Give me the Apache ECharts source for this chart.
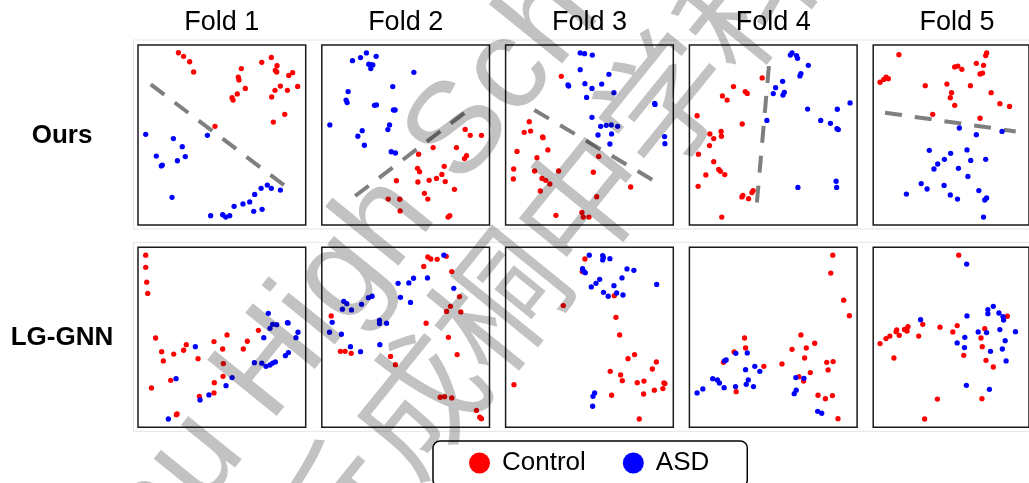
<!DOCTYPE html>
<html>
<head>
<meta charset="utf-8">
<script src="https://cdn.jsdelivr.net/npm/echarts@6/dist/echarts.min.js"></script>
<style>
  html, body { margin: 0; padding: 0; background: #ffffff; }
  #chart { width: 1029px; height: 483px; }
</style>
</head>
<body>
<div id="chart"></div>
<script>
// ---- labels ----
const foldTitles = ['Fold 1', 'Fold 2', 'Fold 3', 'Fold 4', 'Fold 5'];
const methodLabels = ['Ours', 'LG-GNN'];
const classNames = ['Control', 'ASD'];

// ---- 2-D embeddings (normalised to 0..100 per panel) : Ours ----
const ours1Control = [[24.1,95.7],[27.2,93.7],[30.8,90.7],[33.2,85.0],[61.6,86.9],[59.8,82.2],[60.2,80.6],[64.0,75.9],[59.2,72.8],[56.1,70.7],[56.7,69.4],[45.9,54.8],[73.8,90.4],[79.5,93.1],[82.9,88.5],[81.9,85.9],[82.7,85.0],[89.9,83.1],[92.2,84.6],[95.2,77.0],[89.1,74.8],[84.9,77.2],[81.7,74.8],[79.7,71.1],[87.5,61.5],[80.7,57.2]];
const ours1ASD = [[4.6,50.4],[21.1,48.0],[26.4,43.5],[10.9,38.3],[28.2,38.0],[23.5,35.7],[13.9,32.8],[14.5,33.3],[41.4,49.8],[20.3,15.4],[43.3,5.2],[50.5,5.7],[52.3,4.4],[54.7,5.2],[57.3,10.4],[62.6,11.7],[66.6,12.8],[69.0,7.6],[74.0,8.7],[69.6,17.0],[73.4,20.4],[77.1,22.2],[79.5,20.4],[84.9,19.4]];
const ours2Control = [[85.5,53.1],[88.5,49.8],[95.2,49.8],[57.7,39.3],[66.4,43.0],[80.3,43.0],[86.3,38.5],[85.1,36.9],[73.0,32.6],[57.1,31.5],[58.3,29.6],[71.6,28.1],[68.4,25.9],[64.0,24.8],[73.6,24.1],[44.5,24.6],[57.3,23.9],[79.1,19.8],[61.2,17.6],[63.2,14.4],[39.6,14.4],[46.5,14.3],[46.7,7.8],[76.3,5.2],[75.3,4.4]];
const ours2ASD = [[18.3,91.3],[23.1,93.0],[26.6,95.6],[32.4,93.7],[28.0,89.3],[29.4,88.9],[30.4,88.9],[29.2,86.9],[54.9,84.8],[42.3,76.9],[15.7,74.1],[14.5,69.4],[15.1,68.0],[31.4,66.5],[32.6,66.7],[42.7,63.9],[43.7,63.9],[4.8,55.6],[40.4,55.6],[39.4,53.0],[24.1,52.4],[21.5,49.3],[25.4,44.3],[41.4,40.7],[43.9,40.0]];
const ours3Control = [[33.2,82.6],[14.1,57.4],[11.1,51.5],[14.9,52.2],[22.1,48.9],[22.3,48.5],[6.8,40.9],[25.2,41.7],[18.7,37.4],[55.5,38.1],[4.8,31.1],[17.3,30.0],[31.6,30.0],[52.3,29.3],[4.6,25.6],[21.7,25.9],[23.9,24.8],[26.4,22.8],[20.7,18.9],[74.6,21.1],[54.3,15.7],[30.0,5.4],[45.5,7.0],[46.3,4.4],[49.7,4.4]];
const ours3ASD = [[44.5,95.6],[47.1,95.2],[51.7,94.4],[44.5,86.3],[61.6,83.7],[37.2,77.8],[37.6,77.2],[47.3,78.5],[51.5,75.9],[57.3,78.3],[48.3,70.9],[64.6,73.5],[88.9,67.6],[89.1,67.0],[51.5,59.8],[56.7,54.8],[60.0,55.4],[63.0,55.6],[66.8,54.8],[55.1,50.0],[63.2,50.6],[62.2,45.0],[94.8,49.1],[95.0,45.2]];
const ours4Control = [[43.4,81.7],[26.3,76.9],[33.3,74.1],[34.5,73.1],[19.7,71.7],[22.5,69.4],[4.6,60.7],[31.5,56.1],[12.2,50.6],[18.9,52.0],[14.5,48.0],[19.1,49.3],[12.0,44.1],[5.4,39.3],[14.5,35.2],[17.5,30.9],[18.5,29.8],[21.1,28.0],[9.8,27.8],[5.2,21.5],[38.0,19.1],[37.3,18.0],[31.9,16.5],[31.3,15.6],[35.3,14.6],[19.3,4.4]];
const ours4ASD = [[61.2,95.6],[60.2,94.4],[63.9,94.1],[64.5,92.6],[70.9,88.7],[66.5,84.1],[65.9,82.8],[55.6,79.8],[51.4,76.3],[56.6,73.7],[50.0,73.0],[55.8,72.2],[95.8,67.8],[70.5,64.4],[88.2,64.3],[46.2,58.1],[78.3,58.1],[84.1,56.5],[88.0,53.5],[88.8,53.0],[87.5,24.3],[87.8,20.9],[64.7,20.9]];
const ours5Control = [[16.5,94.6],[4.4,79.3],[6.8,80.9],[8.3,82.2],[9.7,81.3],[33.4,77.4],[47.3,78.3],[52.3,87.8],[54.3,88.3],[56.9,86.5],[66.2,89.8],[70.8,88.7],[72.8,95.6],[72.2,94.1],[68.6,83.9],[70.2,84.4],[62.4,77.4],[50.3,73.5],[49.5,70.7],[52.3,66.5],[75.7,73.5],[81.3,67.4],[87.5,65.9],[38.2,61.5],[68.6,59.3]];
const ours5ASD = [[55.3,53.9],[66.2,50.2],[82.7,52.0],[36.0,41.5],[49.7,39.8],[60.2,41.7],[45.7,36.5],[62.6,35.9],[72.2,36.5],[41.4,33.9],[39.0,31.1],[54.7,31.5],[60.8,27.0],[30.8,23.0],[34.6,20.0],[21.3,17.2],[45.5,22.0],[49.5,16.7],[54.1,14.4],[67.8,19.1],[72.8,15.0],[71.6,13.9],[70.8,4.4]];

// decision boundaries of Ours: [x1, y1, x2, y2] per fold
const oursBoundaries = [[7.6,78.1,90.1,20.0],[19.9,16.1,87.7,64.1],[17.1,63.9,90.1,23.7],[47.4,88.3,40.0,9.8],[7.6,62.4,91.5,52.0]];

// ---- 2-D embeddings : LG-GNN ----
const lg1Control = [[4.6,95.6],[4.6,88.9],[5.2,80.6],[5.8,74.4],[10.5,49.6],[14.1,42.0],[15.1,36.9],[21.3,40.7],[27.2,42.8],[28.8,45.9],[35.8,38.1],[45.3,47.6],[50.5,43.5],[53.1,51.3],[50.9,35.4],[65.2,47.8],[62.8,43.5],[71.8,53.9],[50.7,28.3],[45.5,24.8],[45.3,19.1],[36.6,17.2],[23.3,7.4],[22.9,7.0],[19.5,26.1],[8.0,21.9]];
const lg1ASD = [[34.2,44.8],[22.7,27.0],[37.0,15.2],[42.3,18.0],[52.5,23.1],[56.1,27.6],[18.1,4.6],[69.4,35.9],[73.8,35.6],[76.3,33.9],[78.7,34.6],[80.3,35.7],[81.9,36.3],[75.0,49.8],[77.7,63.3],[78.7,55.0],[80.3,57.2],[82.7,57.0],[89.1,58.1],[89.5,58.0],[95.4,52.8],[94.2,49.8],[89.7,41.5],[87.9,39.8]];
const lg2Control = [[63.2,94.6],[65.0,93.5],[68.8,93.3],[74.2,95.0],[60.8,89.4],[77.5,86.5],[82.1,72.6],[76.7,67.2],[74.4,64.4],[82.9,64.1],[62.2,57.8],[75.5,50.0],[80.7,40.4],[5.6,61.9],[11.1,42.2],[13.9,42.2],[17.5,41.1],[41.0,39.4],[43.9,34.8],[70.6,16.7],[73.2,17.0],[77.5,16.3],[92.2,9.4],[94.2,5.6],[95.2,4.8]];
const lg2ASD = [[72.8,95.6],[63.0,83.0],[54.7,82.8],[51.9,80.2],[45.5,80.0],[78.7,77.2],[46.9,72.2],[52.9,69.4],[30.0,72.8],[27.8,72.0],[23.7,68.3],[13.1,70.0],[14.9,68.7],[12.3,65.6],[17.7,65.2],[34.4,59.4],[34.4,57.6],[38.6,57.8],[6.2,58.3],[4.6,52.8],[11.7,51.7],[17.1,44.8],[23.1,42.0],[34.6,45.9]];
const lg3Control = [[47.3,93.5],[45.7,86.5],[64.8,73.1],[34.4,67.6],[65.8,61.1],[68.0,51.3],[76.9,40.4],[73.0,38.1],[89.9,36.3],[87.5,32.4],[62.4,31.1],[68.6,29.1],[69.6,25.9],[78.5,24.8],[82.5,25.7],[94.4,24.6],[95.0,24.3],[93.8,21.5],[88.7,20.6],[82.3,18.5],[63.2,17.8],[5.0,23.7],[79.7,4.6]];
const lg3ASD = [[49.9,95.6],[57.9,95.4],[57.9,93.0],[62.2,93.7],[58.3,94.3],[45.9,88.1],[46.3,86.9],[47.5,85.9],[72.4,88.0],[76.5,87.2],[69.4,83.0],[56.1,82.2],[53.9,80.0],[51.1,78.0],[64.6,78.7],[90.1,79.4],[58.4,75.0],[61.2,72.8],[66.2,74.6],[70.0,73.5],[53.1,19.1],[52.1,17.2],[51.9,11.7]];
const lg4Control = [[85.5,95.6],[84.3,85.7],[92.0,70.6],[95.4,62.0],[32.9,49.6],[33.5,44.1],[26.7,41.9],[20.3,36.1],[44.4,33.9],[55.2,35.2],[66.5,51.3],[69.7,44.1],[74.7,46.7],[61.2,43.3],[68.7,38.5],[81.9,36.1],[85.7,36.5],[82.7,31.9],[72.1,30.4],[65.3,28.1],[68.1,25.7],[27.9,19.8],[76.7,17.8],[81.1,15.9],[85.3,17.6],[88.6,4.8]];
const lg4ASD = [[27.7,41.1],[34.5,41.3],[20.9,36.9],[21.9,37.4],[39.0,33.9],[33.5,32.0],[42.0,31.1],[13.9,27.0],[16.7,26.3],[17.9,24.6],[35.1,26.3],[33.9,23.9],[20.7,22.0],[27.5,22.6],[38.2,22.6],[4.6,19.1],[8.0,21.3],[63.5,27.6],[68.3,27.2],[63.7,20.6],[62.5,18.7],[76.5,8.9],[78.9,7.8]];
const lg5Control = [[54.9,95.6],[4.4,46.5],[8.2,49.3],[10.7,50.7],[14.7,53.1],[15.1,54.1],[16.7,51.1],[20.1,54.4],[21.7,53.5],[22.3,55.9],[29.2,50.7],[31.8,57.2],[42.9,55.6],[51.1,53.0],[53.9,56.5],[58.1,40.0],[69.2,49.6],[70.0,44.8],[71.6,54.8],[72.4,37.2],[77.1,33.5],[86.1,61.7],[13.3,38.5],[41.2,15.7],[69.8,15.9],[33.0,4.6]];
const lg5ASD = [[60.0,90.7],[30.4,59.8],[60.2,61.9],[73.6,65.4],[77.1,67.2],[73.6,63.1],[80.7,63.5],[83.3,61.5],[83.7,59.6],[58.8,50.0],[53.9,46.9],[58.6,44.3],[67.4,53.0],[72.8,52.6],[81.3,54.3],[91.3,53.1],[84.7,48.1],[75.3,42.2],[82.9,43.5],[85.3,36.9],[59.8,23.3],[74.6,21.1]];

// watermark strings
const watermarkEn = 'Yau High School Science Award';
const watermarkZh = '丘成桐中学科学奖';

// ---- assemble ----
const rows = [
  { control: [ours1Control, ours2Control, ours3Control, ours4Control, ours5Control],
    asd: [ours1ASD, ours2ASD, ours3ASD, ours4ASD, ours5ASD], boundaries: oursBoundaries },
  { control: [lg1Control, lg2Control, lg3Control, lg4Control, lg5Control],
    asd: [lg1ASD, lg2ASD, lg3ASD, lg4ASD, lg5ASD], boundaries: null }
];

const FONT = "'Liberation Sans', Arial, Helvetica, sans-serif";
const RED = '#ff0000', BLUE = '#0000ff';
const panelLeft0 = 138, panelStep = 183.8, panelW = 167.7, panelH = 180;
const rowTops = [45, 247.3];

const grid = [], xAxis = [], yAxis = [], series = [];
rows.forEach((row, r) => {
  for (let f = 0; f < 5; f++) {
    const k = r * 5 + f;
    grid.push({
      left: panelLeft0 + panelStep * f, top: rowTops[r], width: panelW, height: panelH,
      show: true, borderColor: '#1a1a1a', borderWidth: 1.5, backgroundColor: '#ffffff'
    });
    xAxis.push({ gridIndex: k, type: 'value', min: 0, max: 100, show: false });
    yAxis.push({ gridIndex: k, type: 'value', min: 0, max: 100, show: false });
    if (row.boundaries) {
      const b = row.boundaries[f];
      series.push({
        type: 'line', name: 'boundary', xAxisIndex: k, yAxisIndex: k,
        data: [[b[0], b[1]], [b[2], b[3]]], symbol: 'none', silent: true, z: 1,
        lineStyle: { color: '#7f7f7f', width: 4, type: [17, 13], cap: 'butt' }
      });
    }
    series.push({
      type: 'scatter', name: classNames[0], xAxisIndex: k, yAxisIndex: k,
      data: row.control[f], symbol: 'circle', symbolSize: 5.3, z: 2,
      itemStyle: { color: RED, opacity: 1 }
    });
    series.push({
      type: 'scatter', name: classNames[1], xAxisIndex: k, yAxisIndex: k,
      data: row.asd[f], symbol: 'circle', symbolSize: 5.3, z: 2,
      itemStyle: { color: BLUE, opacity: 1 }
    });
  }
});

const graphic = [];
// faint frames behind each row of panels
rowTops.forEach((t) => {
  graphic.push({
    type: 'rect', silent: true, z: -10,
    shape: { x: 133.5, y: t - 5, width: 930, height: panelH + 9 },
    style: { fill: 'none', stroke: '#e4e4e4', lineWidth: 1 }
  });
});
// fold titles
foldTitles.forEach((t, f) => {
  graphic.push({
    type: 'text', silent: true,
    x: panelLeft0 + panelStep * f + panelW / 2, y: 23,
    style: { text: t, fontSize: 27, fontFamily: FONT, fill: '#000',
             align: 'center', verticalAlign: 'middle', textAlign: 'center', textVerticalAlign: 'middle' }
  });
});
// method labels
methodLabels.forEach((t, r) => {
  graphic.push({
    type: 'text', silent: true,
    x: 62, y: rowTops[r] + panelH / 2 + 0.5,
    style: { text: t, fontSize: 26, fontWeight: 'bold', fontFamily: FONT, fill: '#000',
             align: 'center', verticalAlign: 'middle', textAlign: 'center', textVerticalAlign: 'middle' }
  });
});
// watermark overlay
const wmRot = 51 * Math.PI / 180;
graphic.push({
  type: 'text', silent: true, z: 100, x: 80, y: 602, rotation: wmRot,
  style: { text: watermarkEn, fontSize: 130, fontFamily: FONT, fill: 'rgba(0,0,0,0.24)',
           align: 'left', verticalAlign: 'middle', textAlign: 'left', textVerticalAlign: 'middle' }
});
graphic.push({
  type: 'text', silent: true, z: 100, x: 294, y: 554, rotation: wmRot,
  style: { text: watermarkZh, fontSize: 130, fontFamily: "'Noto Sans CJK SC', sans-serif", fill: 'rgba(0,0,0,0.24)',
           align: 'left', verticalAlign: 'middle', textAlign: 'left', textVerticalAlign: 'middle' }
});

const chart = echarts.init(document.getElementById('chart'), null, { renderer: 'canvas' });
chart.setOption({
  animation: false,
  backgroundColor: '#ffffff',
  grid, xAxis, yAxis, series, graphic,
  legend: {
    data: classNames, selectedMode: false, icon: 'circle',
    left: 433, top: 441, orient: 'horizontal',
    padding: [9, 38, 11, 36], itemGap: 37, itemWidth: 21, itemHeight: 21,
    borderColor: '#000', borderWidth: 1.5, borderRadius: 7, backgroundColor: '#fff',
    textStyle: { fontSize: 26, fontFamily: FONT, color: '#000', padding: [0, 0, 0, 7] }
  }
});
</script>
</body>
</html>
